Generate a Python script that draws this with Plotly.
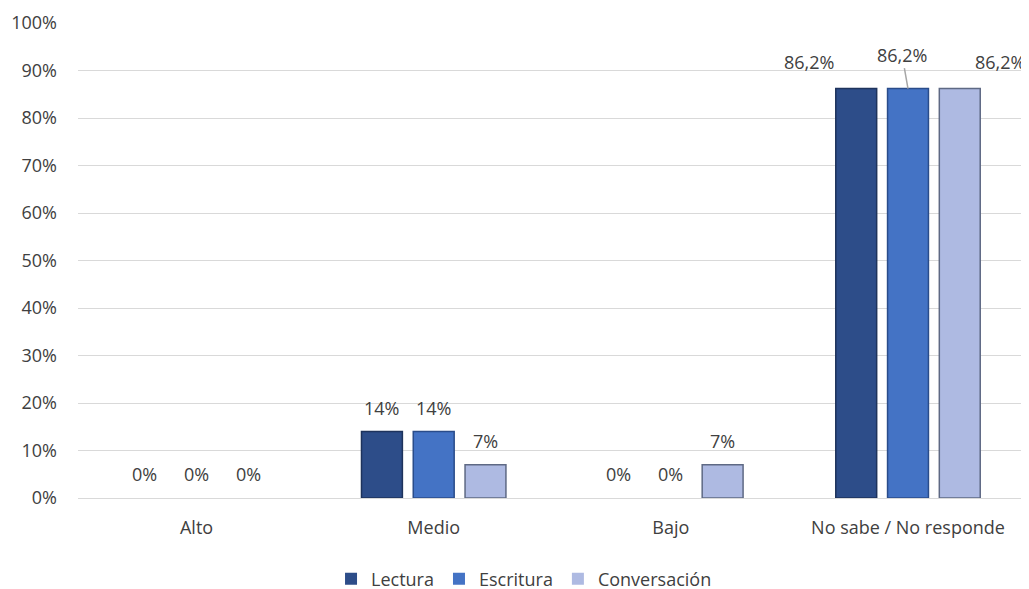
import plotly.graph_objects as go

categories = ["Alto", "Medio", "Bajo", "No sabe / No responde"]
series_names = ["Lectura", "Escritura", "Conversación"]
lectura = [0, 14, 0, 86.2]
escritura = [0, 14, 0, 86.2]
conversacion = [0, 7, 7, 86.2]
label_lectura = ["0%", "14%", "0%", "86,2%"]
label_escritura = ["0%", "14%", "0%", "86,2%"]
label_conversacion = ["0%", "7%", "7%", "86,2%"]
tick_vals = [0, 10, 20, 30, 40, 50, 60, 70, 80, 90, 100]
tick_text = ["0%", "10%", "20%", "30%", "40%", "50%", "60%", "70%", "80%", "90%", "100%"]

colors = ["#2D4D89", "#4473C5", "#AEBAE2"]
line_colors = ["#1E335C", "#2A4C8A", "#5E6984"]
FONT = "Open Sans"
FS = 18
TXT = "#404040"

fig = go.Figure()
all_vals = [lectura, escritura, conversacion]
all_labels = [label_lectura, label_escritura, label_conversacion]
for name, vals, c, lc in zip(series_names, all_vals, colors, line_colors):
    fig.add_trace(go.Bar(
        name=name, x=categories, y=vals,
        marker=dict(color=c, line=dict(color=lc, width=[1.5 if v > 0 else 0 for v in vals])),
    ))

slot = 52
annotations = []
for i, (vals, labs) in enumerate(zip(all_vals, all_labels)):
    for j, (cat, v, lab) in enumerate(zip(categories, vals, labs)):
        xs = (i - 1) * slot
        ys = 24
        if j == 3:
            if i == 0:
                xs, ys = xs - 47, 27
            elif i == 2:
                xs, ys = xs + 40, 27
            else:
                annotations.append(dict(
                    x=cat, y=v, xref="x", yref="y", text=lab,
                    showarrow=True, arrowhead=0, arrowwidth=1.5,
                    arrowcolor="#A6A6A6", ax=-6, ay=-34,
                    font=dict(family=FONT, size=FS, color=TXT),
                ))
                continue
        annotations.append(dict(
            x=cat, y=v, xref="x", yref="y", text=lab, showarrow=False,
            xshift=xs, yshift=ys,
            font=dict(family=FONT, size=FS, color=TXT),
        ))

fig.update_layout(
    width=1029, height=589,
    margin=dict(l=70, r=10, t=15, b=99),
    paper_bgcolor="white", plot_bgcolor="white",
    barmode="group", bargap=0.345, bargroupgap=0.21,
    font=dict(family=FONT, size=FS, color=TXT),
    showlegend=True,
    legend=dict(orientation="h", x=0.47, xanchor="center",
                yref="container", y=0.0306, yanchor="middle",
                font=dict(family=FONT, size=FS, color=TXT),
                itemwidth=30, traceorder="normal"),
    annotations=annotations,
)
fig.update_xaxes(showgrid=False, showline=False, ticks="", ticklabelstandoff=17,
                 automargin=False,
                 tickfont=dict(family=FONT, size=FS, color=TXT))
fig.update_yaxes(range=[0, 100], tickvals=tick_vals, ticktext=tick_text,
                 showgrid=True, gridcolor="#D9D9D9", gridwidth=1,
                 zeroline=True, zerolinecolor="#D9D9D9", zerolinewidth=1,
                 showline=False, ticks="", ticklabelstandoff=20, automargin=False,
                 tickfont=dict(family=FONT, size=FS, color=TXT))

fig.write_html("out.html")
